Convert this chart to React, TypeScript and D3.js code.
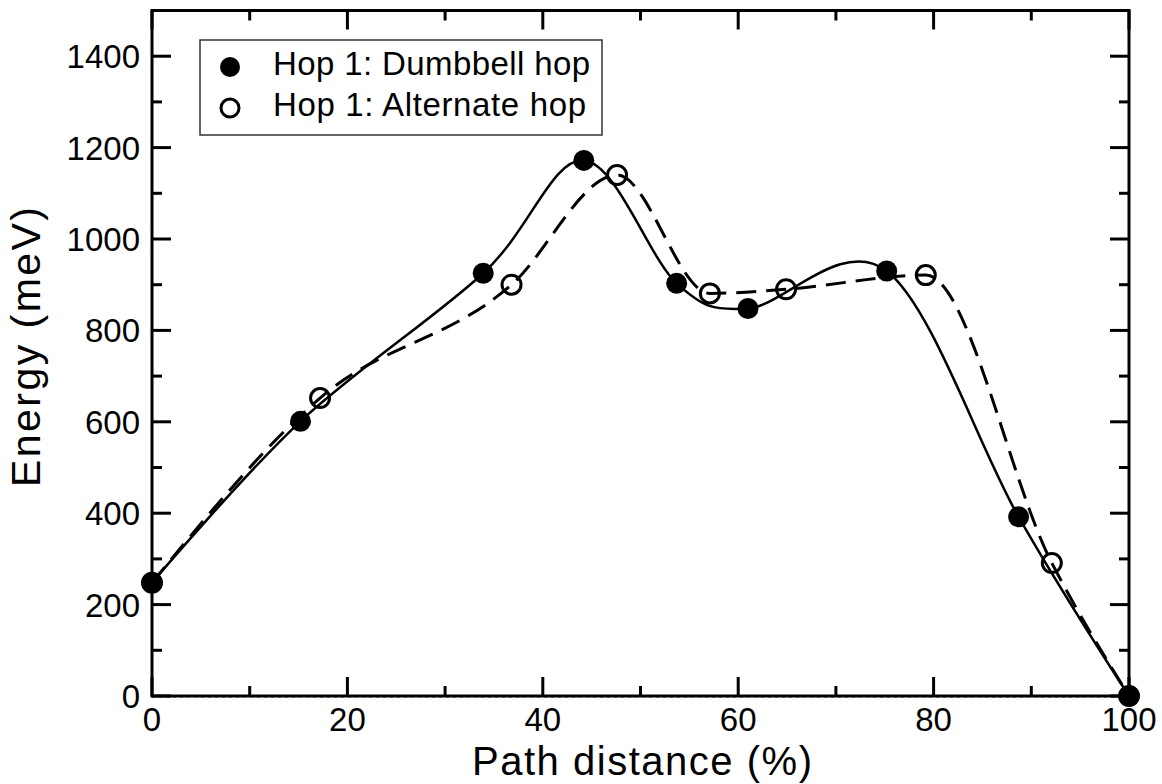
import React from "react";
import * as d3 from "d3";

const dumbbellX = [0, 15.2, 33.9, 44.2, 53.7, 61.0, 75.2, 88.7, 100];
const dumbbellY = [248, 601, 925, 1172, 903, 848, 930, 392, 0];
const alternateX = [0, 17.2, 36.8, 47.6, 57.1, 64.9, 79.2, 92.1, 100];
const alternateY = [248, 652, 900, 1140, 881, 890, 921, 291, 0];
const xMajorTicks = [0, 20, 40, 60, 80, 100];
const xMinorTicks = [10, 30, 50, 70, 90];
const yMajorTicks = [0, 200, 400, 600, 800, 1000, 1200, 1400];
const yMinorTicks = [100, 300, 500, 700, 900, 1100, 1300];
const legendLabels = ["Hop 1: Dumbbell hop", "Hop 1: Alternate hop"];

const W = 1162;
const H = 784;
const left = 152;
const right = 1129;
const top = 10.5;
const bottom = 696;
const FONT = "'Liberation Sans', Arial, Helvetica, sans-serif";

export default function App() {
  const x = d3.scaleLinear().domain([0, 100]).range([left, right]);
  const y = d3.scaleLinear().domain([0, 1500]).range([bottom, top]);
  const solidLine = d3
    .line<[number, number]>()
    .x((d) => x(d[0]))
    .y((d) => y(d[1]))
    .curve(d3.curveCatmullRom.alpha(0));
  const dashLine = d3
    .line<[number, number]>()
    .x((d) => x(d[0]))
    .y((d) => y(d[1]))
    .curve(d3.curveMonotoneX);
  const dData = dumbbellX.map((v, i) => [v, dumbbellY[i]] as [number, number]);
  const aData = alternateX.map((v, i) => [v, alternateY[i]] as [number, number]);
  const major = 19;
  const minor = 10;
  const tickStyle = { stroke: "#000", strokeWidth: 3 };

  return (
    <svg
      width={W}
      height={H}
      style={{ position: "absolute", left: 0, top: 0, background: "#fff" }}
      fontFamily={FONT}
    >
      <rect x={0} y={0} width={W} height={H} fill="#fff" />
      <line
        x1={x(0)}
        x2={x(100)}
        y1={y(0) + 1}
        y2={y(0) + 1}
        stroke="#33338a"
        strokeWidth={1}
        strokeDasharray="3,4"
      />
      <path d={dashLine(aData) || ""} fill="none" stroke="#000" strokeWidth={3} strokeDasharray="20,10" />
      <path d={solidLine(dData) || ""} fill="none" stroke="#000" strokeWidth={2.5} />
      <rect x={left} y={top} width={right - left} height={bottom - top} fill="none" stroke="#000" strokeWidth={3} />
      {xMajorTicks.map((t) => (
        <g key={"xM" + t}>
          <line x1={x(t)} x2={x(t)} y1={bottom} y2={bottom - major} {...tickStyle} />
          <line x1={x(t)} x2={x(t)} y1={top} y2={top + major} {...tickStyle} />
          <text x={x(t)} y={731} fontSize={33} textAnchor="middle" fill="#000">
            {t}
          </text>
        </g>
      ))}
      {xMinorTicks.map((t) => (
        <g key={"xm" + t}>
          <line x1={x(t)} x2={x(t)} y1={bottom} y2={bottom - minor} {...tickStyle} />
          <line x1={x(t)} x2={x(t)} y1={top} y2={top + minor} {...tickStyle} />
        </g>
      ))}
      {yMajorTicks.map((t) => (
        <g key={"yM" + t}>
          <line x1={left} x2={left + major} y1={y(t)} y2={y(t)} {...tickStyle} />
          <line x1={right} x2={right - major} y1={y(t)} y2={y(t)} {...tickStyle} />
          <text x={140} y={y(t) + 12} fontSize={33} textAnchor="end" fill="#000">
            {t}
          </text>
        </g>
      ))}
      {yMinorTicks.map((t) => (
        <g key={"ym" + t}>
          <line x1={left} x2={left + minor} y1={y(t)} y2={y(t)} {...tickStyle} />
          <line x1={right} x2={right - minor} y1={y(t)} y2={y(t)} {...tickStyle} />
        </g>
      ))}
      {aData.map((d, i) => (
        <circle key={"a" + i} cx={x(d[0])} cy={y(d[1])} r={9.5} fill="none" stroke="#000" strokeWidth={3} />
      ))}
      {dData.map((d, i) => (
        <circle key={"d" + i} cx={x(d[0])} cy={y(d[1])} r={10.5} fill="#000" />
      ))}
      <rect x={200} y={40} width={402} height={95} fill="#fff" stroke="#333" strokeWidth={1.5} />
      <circle cx={230} cy={67} r={10} fill="#000" />
      <circle cx={230} cy={108} r={9} fill="none" stroke="#000" strokeWidth={3} />
      <text x={273} y={75} fontSize={33} fill="#000" textLength={317} lengthAdjust="spacing">
        {legendLabels[0]}
      </text>
      <text x={273} y={116} fontSize={33} fill="#000" textLength={313} lengthAdjust="spacing">
        {legendLabels[1]}
      </text>
      <text x={472} y={775} fontSize={40} fill="#000" textLength={340} lengthAdjust="spacing">
        Path distance (%)
      </text>
      <text
        transform={`translate(40,487) rotate(-90)`}
        fontSize={41}
        fill="#000"
        textLength={280}
        lengthAdjust="spacing"
      >
        Energy (meV)
      </text>
    </svg>
  );
}
